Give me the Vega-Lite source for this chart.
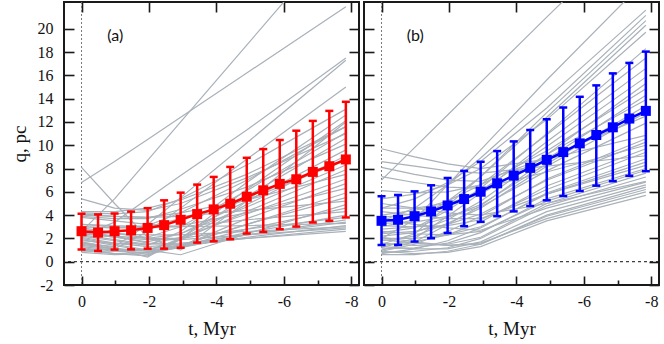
{
  "$schema": "https://vega.github.io/schema/vega-lite/v6.json",
  "padding": {"left": 9, "top": 0, "right": 4, "bottom": 0},
  "background": "white",
  "config": {
    "view": {"stroke": "#1a1a1a", "strokeWidth": 2},
    "axis": {"labelFont": "Liberation Serif", "labelFontSize": 16, "labelColor": "#111", "titleFont": "Liberation Serif", "titleFontSize": 19, "titleFontWeight": "normal", "titleColor": "#111", "tickColor": "#1a1a1a", "tickWidth": 1.6, "domain": false, "grid": false, "labelFlush": false}
  },
  "datasets": {
    "ref": [{"v": 0}],
    "la": [{"t": -1.0, "q": 19.4, "s": "(a)"}],
    "lb": [{"t": -1.0, "q": 19.4, "s": "(b)"}],
    "ma": [
      {"t": 0, "m": 2.62, "lo": 1.04, "hi": 4.12},
      {"t": -0.49, "m": 2.5, "lo": 0.92, "hi": 4.06},
      {"t": -0.98, "m": 2.62, "lo": 1.04, "hi": 4.14},
      {"t": -1.47, "m": 2.7, "lo": 1.06, "hi": 4.3},
      {"t": -1.96, "m": 2.9, "lo": 1.12, "hi": 4.6},
      {"t": -2.45, "m": 3.14, "lo": 1.12, "hi": 5.27},
      {"t": -2.94, "m": 3.6, "lo": 1.2, "hi": 5.93},
      {"t": -3.43, "m": 4.09, "lo": 1.64, "hi": 6.62},
      {"t": -3.92, "m": 4.49, "lo": 1.75, "hi": 7.28},
      {"t": -4.41, "m": 4.98, "lo": 1.93, "hi": 8.14},
      {"t": -4.9, "m": 5.58, "lo": 2.42, "hi": 8.92},
      {"t": -5.39, "m": 6.13, "lo": 2.56, "hi": 9.67},
      {"t": -5.88, "m": 6.68, "lo": 2.79, "hi": 10.45},
      {"t": -6.37, "m": 7.08, "lo": 3.02, "hi": 11.25},
      {"t": -6.86, "m": 7.71, "lo": 3.37, "hi": 12.09},
      {"t": -7.35, "m": 8.2, "lo": 3.51, "hi": 12.95},
      {"t": -7.84, "m": 8.78, "lo": 3.8, "hi": 13.73}
    ],
    "mb": [
      {"t": 0, "m": 3.51, "lo": 1.44, "hi": 5.61},
      {"t": -0.49, "m": 3.6, "lo": 1.44, "hi": 5.73},
      {"t": -0.98, "m": 3.91, "lo": 1.73, "hi": 6.04},
      {"t": -1.47, "m": 4.32, "lo": 2.01, "hi": 6.56},
      {"t": -1.96, "m": 4.83, "lo": 2.47, "hi": 7.19},
      {"t": -2.45, "m": 5.38, "lo": 3.05, "hi": 7.8},
      {"t": -2.94, "m": 6.01, "lo": 3.42, "hi": 8.58},
      {"t": -3.43, "m": 6.73, "lo": 3.91, "hi": 9.5},
      {"t": -3.92, "m": 7.4, "lo": 4.32, "hi": 10.33},
      {"t": -4.41, "m": 8.06, "lo": 4.78, "hi": 11.31},
      {"t": -4.9, "m": 8.75, "lo": 5.27, "hi": 12.23},
      {"t": -5.39, "m": 9.41, "lo": 5.64, "hi": 13.24},
      {"t": -5.88, "m": 10.16, "lo": 6.07, "hi": 14.16},
      {"t": -6.37, "m": 10.88, "lo": 6.53, "hi": 15.14},
      {"t": -6.86, "m": 11.54, "lo": 6.91, "hi": 16.17},
      {"t": -7.35, "m": 12.29, "lo": 7.37, "hi": 17.07},
      {"t": -7.84, "m": 12.95, "lo": 7.77, "hi": 18.04}
    ],
    "ga": [
      {"k":1,"t":0,"q":6.8},{"k":1,"t":-0.98,"q":8.6},{"k":1,"t":-1.96,"q":10.5},{"k":1,"t":-2.94,"q":12.4},{"k":1,"t":-4.9,"q":16.2},{"k":1,"t":-7.84,"q":21.9},
      {"k":2,"t":0,"q":2.6},{"k":2,"t":-0.98,"q":5.4},{"k":2,"t":-1.96,"q":8.7},{"k":2,"t":-2.94,"q":12.0},{"k":2,"t":-4.9,"q":18.6},{"k":2,"t":-7.84,"q":28.5},
      {"k":3,"t":0,"q":8.1},{"k":3,"t":-0.98,"q":5.0},{"k":3,"t":-1.96,"q":2.1},{"k":3,"t":-2.94,"q":1.0},{"k":3,"t":-4.9,"q":5.2},{"k":3,"t":-7.84,"q":12.0},
      {"k":4,"t":0,"q":2.2},{"k":4,"t":-0.98,"q":3.4},{"k":4,"t":-1.96,"q":5.4},{"k":4,"t":-2.94,"q":7.4},{"k":4,"t":-4.9,"q":11.3},{"k":4,"t":-7.84,"q":17.5},
      {"k":5,"t":0,"q":1.6},{"k":5,"t":-0.98,"q":1.3},{"k":5,"t":-1.96,"q":3.2},{"k":5,"t":-2.94,"q":5.5},{"k":5,"t":-4.9,"q":10.2},{"k":5,"t":-7.84,"q":17.3},
      {"k":6,"t":0,"q":1.0},{"k":6,"t":-0.98,"q":1.1},{"k":6,"t":-1.96,"q":2.6},{"k":6,"t":-2.94,"q":4.6},{"k":6,"t":-4.9,"q":8.8},{"k":6,"t":-7.84,"q":15.0},
      {"k":7,"t":0,"q":5.4},{"k":7,"t":-0.98,"q":4.6},{"k":7,"t":-1.96,"q":4.4},{"k":7,"t":-2.94,"q":5.0},{"k":7,"t":-4.9,"q":7.2},{"k":7,"t":-7.84,"q":11.0},
      {"k":8,"t":0,"q":4.3},{"k":8,"t":-0.98,"q":4.3},{"k":8,"t":-1.96,"q":4.6},{"k":8,"t":-2.94,"q":5.3},{"k":8,"t":-4.9,"q":7.5},{"k":8,"t":-7.84,"q":11.6},
      {"k":9,"t":0,"q":1.8},{"k":9,"t":-0.98,"q":1.6},{"k":9,"t":-1.96,"q":1.5},{"k":9,"t":-2.94,"q":1.6},{"k":9,"t":-4.9,"q":2.0},{"k":9,"t":-7.84,"q":2.6},
      {"k":10,"t":0,"q":0.9},{"k":10,"t":-0.98,"q":0.9},{"k":10,"t":-1.96,"q":1.1},{"k":10,"t":-2.94,"q":1.4},{"k":10,"t":-4.9,"q":2.0},{"k":10,"t":-7.84,"q":2.8},
      {"k":11,"t":0,"q":2.4},{"k":11,"t":-0.98,"q":2.1},{"k":11,"t":-1.96,"q":1.9},{"k":11,"t":-2.94,"q":1.9},{"k":11,"t":-4.9,"q":2.3},{"k":11,"t":-7.84,"q":2.9},
      {"k":12,"t":0,"q":2.6},{"k":12,"t":-0.98,"q":2.4},{"k":12,"t":-1.96,"q":2.3},{"k":12,"t":-2.94,"q":2.3},{"k":12,"t":-4.9,"q":2.6},{"k":12,"t":-7.84,"q":3.0},
      {"k":13,"t":0,"q":1.3},{"k":13,"t":-0.98,"q":1.0},{"k":13,"t":-1.96,"q":1.0},{"k":13,"t":-2.94,"q":1.3},{"k":13,"t":-4.9,"q":2.1},{"k":13,"t":-7.84,"q":3.1},
      {"k":14,"t":0,"q":3.8},{"k":14,"t":-0.98,"q":3.5},{"k":14,"t":-1.96,"q":3.2},{"k":14,"t":-2.94,"q":3.0},{"k":14,"t":-4.9,"q":3.1},{"k":14,"t":-7.84,"q":3.3},
      {"k":15,"t":0,"q":2.1},{"k":15,"t":-0.98,"q":1.6},{"k":15,"t":-1.96,"q":1.3},{"k":15,"t":-2.94,"q":1.5},{"k":15,"t":-4.9,"q":2.3},{"k":15,"t":-7.84,"q":3.4},
      {"k":16,"t":0,"q":1.0},{"k":16,"t":-0.98,"q":0.7},{"k":16,"t":-1.96,"q":0.8},{"k":16,"t":-2.94,"q":1.2},{"k":16,"t":-4.9,"q":2.3},{"k":16,"t":-7.84,"q":3.6},
      {"k":17,"t":0,"q":2.4},{"k":17,"t":-0.98,"q":2.2},{"k":17,"t":-1.96,"q":2.0},{"k":17,"t":-2.94,"q":2.0},{"k":17,"t":-4.9,"q":2.8},{"k":17,"t":-7.84,"q":3.8},
      {"k":18,"t":0,"q":1.5},{"k":18,"t":-0.98,"q":1.1},{"k":18,"t":-1.96,"q":0.9},{"k":18,"t":-2.94,"q":1.3},{"k":18,"t":-4.9,"q":2.5},{"k":18,"t":-7.84,"q":4.0},
      {"k":19,"t":0,"q":3.0},{"k":19,"t":-0.98,"q":2.9},{"k":19,"t":-1.96,"q":2.9},{"k":19,"t":-2.94,"q":3.0},{"k":19,"t":-4.9,"q":3.6},{"k":19,"t":-7.84,"q":4.3},
      {"k":20,"t":0,"q":0.8},{"k":20,"t":-0.98,"q":0.6},{"k":20,"t":-1.96,"q":0.7},{"k":20,"t":-2.94,"q":1.3},{"k":20,"t":-4.9,"q":2.8},{"k":20,"t":-7.84,"q":4.6},
      {"k":21,"t":0,"q":2.0},{"k":21,"t":-0.98,"q":1.5},{"k":21,"t":-1.96,"q":1.0},{"k":21,"t":-2.94,"q":0.6},{"k":21,"t":-4.9,"q":2.4},{"k":21,"t":-7.84,"q":4.9},
      {"k":22,"t":0,"q":4.0},{"k":22,"t":-0.98,"q":3.9},{"k":22,"t":-1.96,"q":3.8},{"k":22,"t":-2.94,"q":3.9},{"k":22,"t":-4.9,"q":4.4},{"k":22,"t":-7.84,"q":5.2},
      {"k":23,"t":0,"q":1.2},{"k":23,"t":-0.98,"q":0.9},{"k":23,"t":-1.96,"q":0.8},{"k":23,"t":-2.94,"q":1.4},{"k":23,"t":-4.9,"q":3.2},{"k":23,"t":-7.84,"q":5.5},
      {"k":24,"t":0,"q":2.6},{"k":24,"t":-0.98,"q":2.2},{"k":24,"t":-1.96,"q":1.6},{"k":24,"t":-2.94,"q":1.4},{"k":24,"t":-4.9,"q":3.2},{"k":24,"t":-7.84,"q":5.9},
      {"k":25,"t":0,"q":3.2},{"k":25,"t":-0.98,"q":3.0},{"k":25,"t":-1.96,"q":2.9},{"k":25,"t":-2.94,"q":3.1},{"k":25,"t":-4.9,"q":4.2},{"k":25,"t":-7.84,"q":6.3},
      {"k":26,"t":0,"q":1.7},{"k":26,"t":-0.98,"q":1.2},{"k":26,"t":-1.96,"q":0.6},{"k":26,"t":-2.94,"q":1.3},{"k":26,"t":-4.9,"q":3.7},{"k":26,"t":-7.84,"q":6.7},
      {"k":27,"t":0,"q":2.3},{"k":27,"t":-0.98,"q":1.9},{"k":27,"t":-1.96,"q":1.5},{"k":27,"t":-2.94,"q":2.1},{"k":27,"t":-4.9,"q":4.1},{"k":27,"t":-7.84,"q":7.1},
      {"k":28,"t":0,"q":4.1},{"k":28,"t":-0.98,"q":3.9},{"k":28,"t":-1.96,"q":3.8},{"k":28,"t":-2.94,"q":4.2},{"k":28,"t":-4.9,"q":5.3},{"k":28,"t":-7.84,"q":7.5},
      {"k":29,"t":0,"q":1.4},{"k":29,"t":-0.98,"q":1.1},{"k":29,"t":-1.96,"q":1.0},{"k":29,"t":-2.94,"q":1.9},{"k":29,"t":-4.9,"q":4.3},{"k":29,"t":-7.84,"q":7.9},
      {"k":30,"t":0,"q":2.9},{"k":30,"t":-0.98,"q":2.5},{"k":30,"t":-1.96,"q":2.0},{"k":30,"t":-2.94,"q":2.4},{"k":30,"t":-4.9,"q":4.7},{"k":30,"t":-7.84,"q":8.3},
      {"k":31,"t":0,"q":3.2},{"k":31,"t":-0.98,"q":3.1},{"k":31,"t":-1.96,"q":3.0},{"k":31,"t":-2.94,"q":3.7},{"k":31,"t":-4.9,"q":5.3},{"k":31,"t":-7.84,"q":8.7},
      {"k":32,"t":0,"q":1.1},{"k":32,"t":-0.98,"q":0.7},{"k":32,"t":-1.96,"q":0.5},{"k":32,"t":-2.94,"q":1.9},{"k":32,"t":-4.9,"q":4.9},{"k":32,"t":-7.84,"q":9.1},
      {"k":33,"t":0,"q":2.5},{"k":33,"t":-0.98,"q":2.1},{"k":33,"t":-1.96,"q":1.7},{"k":33,"t":-2.94,"q":2.4},{"k":33,"t":-4.9,"q":5.2},{"k":33,"t":-7.84,"q":9.6},
      {"k":34,"t":0,"q":3.9},{"k":34,"t":-0.98,"q":3.7},{"k":34,"t":-1.96,"q":3.7},{"k":34,"t":-2.94,"q":4.5},{"k":34,"t":-4.9,"q":6.4},{"k":34,"t":-7.84,"q":10.1},
      {"k":35,"t":0,"q":1.9},{"k":35,"t":-0.98,"q":1.4},{"k":35,"t":-1.96,"q":0.9},{"k":35,"t":-2.94,"q":2.0},{"k":35,"t":-4.9,"q":5.6},{"k":35,"t":-7.84,"q":10.6},
      {"k":36,"t":0,"q":2.8},{"k":36,"t":-0.98,"q":2.4},{"k":36,"t":-1.96,"q":2.1},{"k":36,"t":-2.94,"q":3.0},{"k":36,"t":-4.9,"q":6.1},{"k":36,"t":-7.84,"q":11.1},
      {"k":37,"t":0,"q":3.0},{"k":37,"t":-0.98,"q":2.9},{"k":37,"t":-1.96,"q":3.1},{"k":37,"t":-2.94,"q":4.2},{"k":37,"t":-4.9,"q":7.0},{"k":37,"t":-7.84,"q":11.6},
      {"k":38,"t":0,"q":1.6},{"k":38,"t":-0.98,"q":1.1},{"k":38,"t":-1.96,"q":0.4},{"k":38,"t":-2.94,"q":2.0},{"k":38,"t":-4.9,"q":6.2},{"k":38,"t":-7.84,"q":12.1},
      {"k":39,"t":0,"q":2.2},{"k":39,"t":-0.98,"q":1.8},{"k":39,"t":-1.96,"q":1.4},{"k":39,"t":-2.94,"q":2.6},{"k":39,"t":-4.9,"q":6.8},{"k":39,"t":-7.84,"q":12.6},
      {"k":40,"t":0,"q":4.2},{"k":40,"t":-0.98,"q":4.1},{"k":40,"t":-1.96,"q":4.3},{"k":40,"t":-2.94,"q":5.4},{"k":40,"t":-4.9,"q":8.3},{"k":40,"t":-7.84,"q":13.1}
    ],
    "gb": [
      {"k":1,"t":0,"q":7.0},{"k":1,"t":-0.98,"q":9.8},{"k":1,"t":-1.96,"q":12.6},{"k":1,"t":-2.94,"q":15.4},{"k":1,"t":-4.9,"q":21.0},{"k":1,"t":-7.84,"q":29.3},
      {"k":2,"t":0,"q":2.0},{"k":2,"t":-0.98,"q":3.6},{"k":2,"t":-1.96,"q":6.6},{"k":2,"t":-2.94,"q":9.6},{"k":2,"t":-4.9,"q":15.6},{"k":2,"t":-7.84,"q":24.2},
      {"k":3,"t":0,"q":3.5},{"k":3,"t":-0.98,"q":4.6},{"k":3,"t":-1.96,"q":6.6},{"k":3,"t":-2.94,"q":8.9},{"k":3,"t":-4.9,"q":14.0},{"k":3,"t":-7.84,"q":21.6},
      {"k":4,"t":0,"q":4.6},{"k":4,"t":-0.98,"q":5.4},{"k":4,"t":-1.96,"q":6.8},{"k":4,"t":-2.94,"q":8.6},{"k":4,"t":-4.9,"q":13.2},{"k":4,"t":-7.84,"q":21.15},
      {"k":5,"t":0,"q":1.5},{"k":5,"t":-0.98,"q":2.4},{"k":5,"t":-1.96,"q":4.8},{"k":5,"t":-2.94,"q":7.3},{"k":5,"t":-4.9,"q":12.8},{"k":5,"t":-7.84,"q":20.7},
      {"k":6,"t":0,"q":3.0},{"k":6,"t":-0.98,"q":3.6},{"k":6,"t":-1.96,"q":5.2},{"k":6,"t":-2.94,"q":7.3},{"k":6,"t":-4.9,"q":12.4},{"k":6,"t":-7.84,"q":20.3},
      {"k":7,"t":0,"q":5.4},{"k":7,"t":-0.98,"q":5.8},{"k":7,"t":-1.96,"q":6.6},{"k":7,"t":-2.94,"q":8.0},{"k":7,"t":-4.9,"q":12.2},{"k":7,"t":-7.84,"q":19.7},
      {"k":8,"t":0,"q":2.5},{"k":8,"t":-0.98,"q":2.9},{"k":8,"t":-1.96,"q":4.4},{"k":8,"t":-2.94,"q":6.3},{"k":8,"t":-4.9,"q":11.0},{"k":8,"t":-7.84,"q":18.3},
      {"k":9,"t":0,"q":4.0},{"k":9,"t":-0.98,"q":4.4},{"k":9,"t":-1.96,"q":5.2},{"k":9,"t":-2.94,"q":6.6},{"k":9,"t":-4.9,"q":10.9},{"k":9,"t":-7.84,"q":17.5},
      {"k":10,"t":0,"q":1.2},{"k":10,"t":-0.98,"q":2.0},{"k":10,"t":-1.96,"q":3.9},{"k":10,"t":-2.94,"q":5.9},{"k":10,"t":-4.9,"q":10.3},{"k":10,"t":-7.84,"q":16.6},
      {"k":11,"t":0,"q":3.8},{"k":11,"t":-0.98,"q":4.1},{"k":11,"t":-1.96,"q":4.9},{"k":11,"t":-2.94,"q":6.1},{"k":11,"t":-4.9,"q":9.9},{"k":11,"t":-7.84,"q":15.85},
      {"k":12,"t":0,"q":2.2},{"k":12,"t":-0.98,"q":2.5},{"k":12,"t":-1.96,"q":3.6},{"k":12,"t":-2.94,"q":5.2},{"k":12,"t":-4.9,"q":9.2},{"k":12,"t":-7.84,"q":15.3},
      {"k":13,"t":0,"q":6.1},{"k":13,"t":-0.98,"q":5.9},{"k":13,"t":-1.96,"q":6.0},{"k":13,"t":-2.94,"q":6.6},{"k":13,"t":-4.9,"q":9.5},{"k":13,"t":-7.84,"q":14.85},
      {"k":14,"t":0,"q":1.0},{"k":14,"t":-0.98,"q":1.7},{"k":14,"t":-1.96,"q":3.2},{"k":14,"t":-2.94,"q":4.8},{"k":14,"t":-4.9,"q":8.8},{"k":14,"t":-7.84,"q":14.3},
      {"k":15,"t":0,"q":4.6},{"k":15,"t":-0.98,"q":4.6},{"k":15,"t":-1.96,"q":5.0},{"k":15,"t":-2.94,"q":5.8},{"k":15,"t":-4.9,"q":9.2},{"k":15,"t":-7.84,"q":13.9},
      {"k":16,"t":0,"q":2.8},{"k":16,"t":-0.98,"q":3.0},{"k":16,"t":-1.96,"q":3.8},{"k":16,"t":-2.94,"q":4.9},{"k":16,"t":-4.9,"q":8.4},{"k":16,"t":-7.84,"q":13.4},
      {"k":17,"t":0,"q":1.8},{"k":17,"t":-0.98,"q":2.2},{"k":17,"t":-1.96,"q":3.3},{"k":17,"t":-2.94,"q":4.6},{"k":17,"t":-4.9,"q":8.2},{"k":17,"t":-7.84,"q":12.8},
      {"k":18,"t":0,"q":8.1},{"k":18,"t":-0.98,"q":7.5},{"k":18,"t":-1.96,"q":7.0},{"k":18,"t":-2.94,"q":6.9},{"k":18,"t":-4.9,"q":8.9},{"k":18,"t":-7.84,"q":12.5},
      {"k":19,"t":0,"q":3.3},{"k":19,"t":-0.98,"q":3.4},{"k":19,"t":-1.96,"q":3.9},{"k":19,"t":-2.94,"q":4.7},{"k":19,"t":-4.9,"q":7.8},{"k":19,"t":-7.84,"q":11.9},
      {"k":20,"t":0,"q":9.7},{"k":20,"t":-0.98,"q":9.0},{"k":20,"t":-1.96,"q":8.4},{"k":20,"t":-2.94,"q":8.0},{"k":20,"t":-4.9,"q":8.8},{"k":20,"t":-7.84,"q":10.85},
      {"k":21,"t":0,"q":0.9},{"k":21,"t":-0.98,"q":1.5},{"k":21,"t":-1.96,"q":2.6},{"k":21,"t":-2.94,"q":3.9},{"k":21,"t":-4.9,"q":7.1},{"k":21,"t":-7.84,"q":10.56},
      {"k":22,"t":0,"q":2.4},{"k":22,"t":-0.98,"q":2.6},{"k":22,"t":-1.96,"q":3.2},{"k":22,"t":-2.94,"q":4.1},{"k":22,"t":-4.9,"q":7.0},{"k":22,"t":-7.84,"q":10.27},
      {"k":23,"t":0,"q":7.3},{"k":23,"t":-0.98,"q":6.8},{"k":23,"t":-1.96,"q":6.4},{"k":23,"t":-2.94,"q":6.3},{"k":23,"t":-4.9,"q":7.7},{"k":23,"t":-7.84,"q":10.0},
      {"k":24,"t":0,"q":1.4},{"k":24,"t":-0.98,"q":1.7},{"k":24,"t":-1.96,"q":2.3},{"k":24,"t":-2.94,"q":3.4},{"k":24,"t":-4.9,"q":6.5},{"k":24,"t":-7.84,"q":9.7},
      {"k":25,"t":0,"q":3.1},{"k":25,"t":-0.98,"q":3.0},{"k":25,"t":-1.96,"q":3.1},{"k":25,"t":-2.94,"q":3.6},{"k":25,"t":-4.9,"q":6.2},{"k":25,"t":-7.84,"q":9.4},
      {"k":26,"t":0,"q":8.6},{"k":26,"t":-0.98,"q":8.2},{"k":26,"t":-1.96,"q":7.8},{"k":26,"t":-2.94,"q":7.6},{"k":26,"t":-4.9,"q":8.2},{"k":26,"t":-7.84,"q":9.1},
      {"k":27,"t":0,"q":0.7},{"k":27,"t":-0.98,"q":1.1},{"k":27,"t":-1.96,"q":1.8},{"k":27,"t":-2.94,"q":2.9},{"k":27,"t":-4.9,"q":5.9},{"k":27,"t":-7.84,"q":8.84},
      {"k":28,"t":0,"q":2.0},{"k":28,"t":-0.98,"q":2.0},{"k":28,"t":-1.96,"q":2.3},{"k":28,"t":-2.94,"q":3.0},{"k":28,"t":-4.9,"q":5.8},{"k":28,"t":-7.84,"q":8.55},
      {"k":29,"t":0,"q":4.3},{"k":29,"t":-0.98,"q":4.0},{"k":29,"t":-1.96,"q":3.7},{"k":29,"t":-2.94,"q":3.7},{"k":29,"t":-4.9,"q":5.8},{"k":29,"t":-7.84,"q":8.27},
      {"k":30,"t":0,"q":1.1},{"k":30,"t":-0.98,"q":1.2},{"k":30,"t":-1.96,"q":1.6},{"k":30,"t":-2.94,"q":2.5},{"k":30,"t":-4.9,"q":5.4},{"k":30,"t":-7.84,"q":8.0},
      {"k":31,"t":0,"q":2.6},{"k":31,"t":-0.98,"q":2.4},{"k":31,"t":-1.96,"q":2.3},{"k":31,"t":-2.94,"q":2.6},{"k":31,"t":-4.9,"q":5.2},{"k":31,"t":-7.84,"q":7.85},
      {"k":32,"t":0,"q":1.6},{"k":32,"t":-0.98,"q":1.4},{"k":32,"t":-1.96,"q":1.5},{"k":32,"t":-2.94,"q":2.1},{"k":32,"t":-4.9,"q":5.0},{"k":32,"t":-7.84,"q":7.6},
      {"k":33,"t":0,"q":0.8},{"k":33,"t":-0.98,"q":0.9},{"k":33,"t":-1.96,"q":1.2},{"k":33,"t":-2.94,"q":2.0},{"k":33,"t":-4.9,"q":4.8},{"k":33,"t":-7.84,"q":7.27},
      {"k":34,"t":0,"q":3.6},{"k":34,"t":-0.98,"q":3.2},{"k":34,"t":-1.96,"q":2.9},{"k":34,"t":-2.94,"q":2.7},{"k":34,"t":-4.9,"q":4.6},{"k":34,"t":-7.84,"q":6.84},
      {"k":35,"t":0,"q":1.3},{"k":35,"t":-0.98,"q":1.1},{"k":35,"t":-1.96,"q":1.1},{"k":35,"t":-2.94,"q":1.7},{"k":35,"t":-4.9,"q":4.3},{"k":35,"t":-7.84,"q":6.6},
      {"k":36,"t":0,"q":0.6},{"k":36,"t":-0.98,"q":0.6},{"k":36,"t":-1.96,"q":0.9},{"k":36,"t":-2.94,"q":1.5},{"k":36,"t":-4.9,"q":4.0},{"k":36,"t":-7.84,"q":6.4},
      {"k":37,"t":0,"q":2.1},{"k":37,"t":-0.98,"q":1.7},{"k":37,"t":-1.96,"q":1.4},{"k":37,"t":-2.94,"q":1.5},{"k":37,"t":-4.9,"q":3.9},{"k":37,"t":-7.84,"q":6.2},
      {"k":38,"t":0,"q":0.9},{"k":38,"t":-0.98,"q":0.7},{"k":38,"t":-1.96,"q":0.8},{"k":38,"t":-2.94,"q":1.3},{"k":38,"t":-4.9,"q":3.5},{"k":38,"t":-7.84,"q":5.7},
      {"k":39,"t":0,"q":5.0},{"k":39,"t":-0.98,"q":4.6},{"k":39,"t":-1.96,"q":4.2},{"k":39,"t":-2.94,"q":4.0},{"k":39,"t":-4.9,"q":5.0},{"k":39,"t":-7.84,"q":6.9},
      {"k":40,"t":0,"q":1.9},{"k":40,"t":-0.98,"q":1.6},{"k":40,"t":-1.96,"q":1.4},{"k":40,"t":-2.94,"q":1.6},{"k":40,"t":-4.9,"q":3.7},{"k":40,"t":-7.84,"q":6.0}
    ]
  },
  "spacing": 5,
  "bounds": "flush",
  "hconcat": [
    {
      "width": 295, "height": 283,
      "resolve": {"axis": {"x": "independent", "y": "independent"}},
      "layer": [
        {"data": {"name": "ref"}, "mark": {"type": "rule", "color": "#111", "strokeDash": [3, 3], "strokeWidth": 1},
         "encoding": {"y": {"field": "v", "type": "quantitative", "scale": {"domain": [-2, 22.3], "nice": false, "zero": false},
           "axis": {"orient": "right", "values": [-2, 0, 2, 4, 6, 8, 10, 12, 14, 16, 18, 20], "tickSize": -10, "labels": false, "title": null}}}},
        {"data": {"name": "ref"}, "mark": {"type": "rule", "color": "#777", "strokeDash": [2, 2], "strokeWidth": 1},
         "encoding": {"x": {"field": "v", "type": "quantitative", "scale": {"domain": [0.52, -8.23], "nice": false, "zero": false},
           "axis": {"orient": "top", "values": [0, -2, -4, -6, -8], "tickSize": -10, "labels": false, "title": null}}}},
        {"data": {"name": "ga"}, "mark": {"type": "line", "color": "#a9b1b9", "strokeWidth": 1.2, "clip": true},
         "encoding": {
           "x": {"field": "t", "type": "quantitative", "scale": {"domain": [0.52, -8.23], "nice": false, "zero": false},
             "axis": {"orient": "bottom", "values": [0, -2, -4, -6, -8], "tickSize": -9, "labelPadding": 17, "labelExpr": "'' + datum.value", "title": "t, Myr", "titlePadding": 10}},
           "y": {"field": "q", "type": "quantitative", "scale": {"domain": [-2, 22.3], "nice": false, "zero": false},
             "axis": {"orient": "left", "values": [-2, 0, 2, 4, 6, 8, 10, 12, 14, 16, 18, 20], "tickSize": -10, "labelPadding": 21, "labelExpr": "'' + datum.value", "title": "q, pc", "titlePadding": 8}},
           "detail": {"field": "k", "type": "nominal"}}},
        {"data": {"name": "ma"}, "mark": {"type": "line", "color": "#ff0000", "strokeWidth": 2.5},
         "encoding": {
           "x": {"field": "t", "type": "quantitative", "scale": {"domain": [0.52, -8.23], "nice": false, "zero": false},
             "axis": {"orient": "bottom", "values": [-1, -3, -5, -7], "tickSize": -5, "labels": false, "title": null}},
           "y": {"field": "m", "type": "quantitative", "scale": {"domain": [-2, 22.3], "nice": false, "zero": false}, "axis": null}}},
        {"data": {"name": "ma"}, "mark": {"type": "rule", "color": "#ff0000", "strokeWidth": 2.5},
         "encoding": {
           "x": {"field": "t", "type": "quantitative", "scale": {"domain": [0.52, -8.23], "nice": false, "zero": false}, "axis": null},
           "y": {"field": "lo", "type": "quantitative", "scale": {"domain": [-2, 22.3], "nice": false, "zero": false}, "axis": null},
           "y2": {"field": "hi"}}},
        {"data": {"name": "ma"}, "mark": {"type": "tick", "orient": "horizontal", "color": "#ff0000", "size": 8, "thickness": 2.5, "opacity": 1},
         "encoding": {
           "x": {"field": "t", "type": "quantitative", "scale": {"domain": [0.52, -8.23], "nice": false, "zero": false}, "axis": null},
           "y": {"field": "lo", "type": "quantitative", "scale": {"domain": [-2, 22.3], "nice": false, "zero": false}, "axis": null}}},
        {"data": {"name": "ma"}, "mark": {"type": "tick", "orient": "horizontal", "color": "#ff0000", "size": 8, "thickness": 2.5, "opacity": 1},
         "encoding": {
           "x": {"field": "t", "type": "quantitative", "scale": {"domain": [0.52, -8.23], "nice": false, "zero": false}, "axis": null},
           "y": {"field": "hi", "type": "quantitative", "scale": {"domain": [-2, 22.3], "nice": false, "zero": false}, "axis": null}}},
        {"data": {"name": "ma"}, "mark": {"type": "point", "shape": "square", "filled": true, "size": 100, "color": "#ff0000", "opacity": 1},
         "encoding": {
           "x": {"field": "t", "type": "quantitative", "scale": {"domain": [0.52, -8.23], "nice": false, "zero": false}, "axis": null},
           "y": {"field": "m", "type": "quantitative", "scale": {"domain": [-2, 22.3], "nice": false, "zero": false}, "axis": null}}},
        {"data": {"name": "la"}, "mark": {"type": "text", "font": "Lato", "fontSize": 16, "color": "#111"},
         "encoding": {
           "x": {"field": "t", "type": "quantitative", "scale": {"domain": [0.52, -8.23], "nice": false, "zero": false}, "axis": null},
           "y": {"field": "q", "type": "quantitative", "scale": {"domain": [-2, 22.3], "nice": false, "zero": false}, "axis": null},
           "text": {"field": "s"}}}
      ]
    },
    {
      "width": 295, "height": 283,
      "resolve": {"axis": {"x": "independent", "y": "independent"}},
      "layer": [
        {"data": {"name": "ref"}, "mark": {"type": "rule", "color": "#111", "strokeDash": [3, 3], "strokeWidth": 1},
         "encoding": {"y": {"field": "v", "type": "quantitative", "scale": {"domain": [-2, 22.3], "nice": false, "zero": false},
           "axis": {"orient": "right", "values": [-2, 0, 2, 4, 6, 8, 10, 12, 14, 16, 18, 20], "tickSize": -10, "labels": false, "title": null}}}},
        {"data": {"name": "ref"}, "mark": {"type": "rule", "color": "#777", "strokeDash": [2, 2], "strokeWidth": 1},
         "encoding": {"x": {"field": "v", "type": "quantitative", "scale": {"domain": [0.52, -8.23], "nice": false, "zero": false},
           "axis": {"orient": "top", "values": [0, -2, -4, -6, -8], "tickSize": -10, "labels": false, "title": null}}}},
        {"data": {"name": "gb"}, "mark": {"type": "line", "color": "#a9b1b9", "strokeWidth": 1.2, "clip": true},
         "encoding": {
           "x": {"field": "t", "type": "quantitative", "scale": {"domain": [0.52, -8.23], "nice": false, "zero": false},
             "axis": {"orient": "bottom", "values": [0, -2, -4, -6, -8], "tickSize": -9, "labelPadding": 17, "labelExpr": "'' + datum.value", "title": "t, Myr", "titlePadding": 10}},
           "y": {"field": "q", "type": "quantitative", "scale": {"domain": [-2, 22.3], "nice": false, "zero": false},
             "axis": {"orient": "left", "values": [-2, 0, 2, 4, 6, 8, 10, 12, 14, 16, 18, 20], "tickSize": -10, "labels": false, "title": null}},
           "detail": {"field": "k", "type": "nominal"}}},
        {"data": {"name": "mb"}, "mark": {"type": "line", "color": "#0000ff", "strokeWidth": 2.5},
         "encoding": {
           "x": {"field": "t", "type": "quantitative", "scale": {"domain": [0.52, -8.23], "nice": false, "zero": false},
             "axis": {"orient": "bottom", "values": [-1, -3, -5, -7], "tickSize": -5, "labels": false, "title": null}},
           "y": {"field": "m", "type": "quantitative", "scale": {"domain": [-2, 22.3], "nice": false, "zero": false}, "axis": null}}},
        {"data": {"name": "mb"}, "mark": {"type": "rule", "color": "#0000ff", "strokeWidth": 2.5},
         "encoding": {
           "x": {"field": "t", "type": "quantitative", "scale": {"domain": [0.52, -8.23], "nice": false, "zero": false}, "axis": null},
           "y": {"field": "lo", "type": "quantitative", "scale": {"domain": [-2, 22.3], "nice": false, "zero": false}, "axis": null},
           "y2": {"field": "hi"}}},
        {"data": {"name": "mb"}, "mark": {"type": "tick", "orient": "horizontal", "color": "#0000ff", "size": 8, "thickness": 2.5, "opacity": 1},
         "encoding": {
           "x": {"field": "t", "type": "quantitative", "scale": {"domain": [0.52, -8.23], "nice": false, "zero": false}, "axis": null},
           "y": {"field": "lo", "type": "quantitative", "scale": {"domain": [-2, 22.3], "nice": false, "zero": false}, "axis": null}}},
        {"data": {"name": "mb"}, "mark": {"type": "tick", "orient": "horizontal", "color": "#0000ff", "size": 8, "thickness": 2.5, "opacity": 1},
         "encoding": {
           "x": {"field": "t", "type": "quantitative", "scale": {"domain": [0.52, -8.23], "nice": false, "zero": false}, "axis": null},
           "y": {"field": "hi", "type": "quantitative", "scale": {"domain": [-2, 22.3], "nice": false, "zero": false}, "axis": null}}},
        {"data": {"name": "mb"}, "mark": {"type": "point", "shape": "square", "filled": true, "size": 100, "color": "#0000ff", "opacity": 1},
         "encoding": {
           "x": {"field": "t", "type": "quantitative", "scale": {"domain": [0.52, -8.23], "nice": false, "zero": false}, "axis": null},
           "y": {"field": "m", "type": "quantitative", "scale": {"domain": [-2, 22.3], "nice": false, "zero": false}, "axis": null}}},
        {"data": {"name": "lb"}, "mark": {"type": "text", "font": "Lato", "fontSize": 16, "color": "#111"},
         "encoding": {
           "x": {"field": "t", "type": "quantitative", "scale": {"domain": [0.52, -8.23], "nice": false, "zero": false}, "axis": null},
           "y": {"field": "q", "type": "quantitative", "scale": {"domain": [-2, 22.3], "nice": false, "zero": false}, "axis": null},
           "text": {"field": "s"}}}
      ]
    }
  ]
}
